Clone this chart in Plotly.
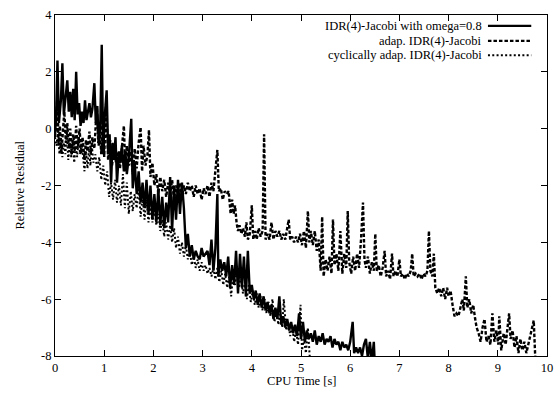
import plotly.graph_objects as go

# ---- data ----
series_names = ["IDR(4)-Jacobi with omega=0.8", "adap. IDR(4)-Jacobi", "cyclically adap. IDR(4)-Jacobi"]

omega_points = [
(0.00,-0.2),(0.02,0.3),(0.05,2.4),(0.08,0.2),(0.12,1.0),(0.15,2.3),(0.18,0.5),(0.22,1.1),(0.25,1.7),(0.28,0.6),
(0.31,1.3),(0.34,0.4),(0.37,1.4),(0.40,0.3),(0.43,2.0),(0.46,0.5),(0.49,0.9),(0.52,0.1),(0.55,0.6),(0.58,0.2),
(0.61,1.0),(0.64,0.3),(0.67,0.6),(0.70,0.9),(0.73,0.4),(0.76,0.7),(0.80,1.6),(0.83,0.2),(0.86,0.8),(0.89,-0.6),
(0.92,0.1),(0.95,2.95),(0.98,-0.9),(1.01,0.4),(1.05,1.35),(1.08,-0.8),(1.11,-0.2),(1.14,-1.9),(1.17,-0.5),(1.20,-1.1),
(1.23,-0.3),(1.26,-1.9),(1.30,-0.8),(1.33,-1.2),(1.36,-0.6),(1.40,-1.5),(1.43,-0.8),(1.46,-1.6),(1.50,-1.0),(1.55,0.35),
(1.58,-2.1),(1.62,-1.2),(1.66,-2.3),(1.70,-1.5),(1.74,-2.6),(1.78,-1.9),(1.82,-2.8),(1.86,-1.8),(1.90,-3.0),(1.94,-2.0),
(1.98,-3.2),(2.02,-2.3),(2.06,-3.3),(2.10,-2.1),(2.14,-3.4),(2.18,-2.4),(2.22,-3.5),(2.26,-2.6),(2.30,-3.3),(2.34,-1.7),
(2.38,-3.6),(2.42,-2.0),(2.46,-3.2),(2.50,-1.8),(2.54,-3.0),(2.58,-1.9),(2.62,-2.8),(2.66,-4.2),(2.70,-3.7),(2.74,-4.5),
(2.78,-4.1),(2.82,-4.6),(2.86,-4.3),(2.90,-4.5),(2.94,-4.6),(2.98,-4.2),(3.02,-4.5),(3.06,-4.4),(3.10,-4.3),(3.14,-4.8),
(3.18,-3.9),(3.22,-5.0),(3.26,-4.2),(3.30,-2.3),(3.32,-5.2),(3.36,-4.6),(3.40,-5.0),(3.44,-4.7),(3.48,-5.2),(3.52,-4.5),
(3.56,-5.6),(3.60,-4.8),(3.64,-5.5),(3.68,-4.3),(3.72,-5.8),(3.76,-4.4),(3.80,-5.6),(3.84,-4.5),(3.88,-5.9),(3.92,-4.3),
(3.96,-5.8),(4.00,-5.5),(4.04,-6.0),(4.08,-5.7),(4.12,-6.2),(4.16,-5.8),(4.20,-6.3),(4.24,-5.9),(4.28,-6.4),(4.32,-6.1),
(4.36,-6.5),(4.40,-6.2),(4.44,-6.7),(4.48,-6.3),(4.52,-6.7),(4.56,-5.9),(4.60,-6.9),(4.64,-6.6),(4.68,-7.0),(4.72,-6.7),
(4.76,-7.1),(4.80,-6.8),(4.84,-7.2),(4.88,-6.9),(4.92,-7.3),(4.96,-6.5),(5.00,-7.4),(5.04,-6.8),(5.08,-7.5),(5.12,-7.1),
(5.16,-7.4),(5.20,-7.2),(5.24,-7.5),(5.28,-7.1),(5.32,-7.6),(5.36,-7.3),(5.40,-7.5),(5.44,-7.2),(5.48,-7.6),(5.52,-7.4),
(5.56,-7.5),(5.60,-7.3),(5.64,-7.7),(5.68,-7.4),(5.72,-7.6),(5.76,-7.5),(5.80,-7.8),(5.84,-7.5),(5.88,-7.7),(5.92,-7.6),
(5.96,-7.8),(6.00,-7.5),(6.05,-6.8),(6.08,-7.9),(6.12,-7.7),(6.16,-7.9),(6.20,-7.7),(6.24,-8.0),(6.28,-7.6),(6.32,-7.4),
(6.36,-8.1),(6.40,-7.5),(6.44,-8.2),(6.48,-7.5),(6.50,-8.3)]

adap_points = [
(0.00,-0.3),(0.03,0.2),(0.05,1.4),(0.07,-0.6),(0.10,0.1),(0.13,-0.9),(0.16,-0.1),(0.19,0.6),(0.22,-0.5),(0.25,0.2),
(0.28,-0.7),(0.31,0.0),(0.34,-0.9),(0.37,-0.2),(0.40,-0.8),(0.43,0.1),(0.46,-0.7),(0.50,0.0),(0.53,-0.9),(0.56,-0.3),
(0.60,-1.1),(0.63,-0.4),(0.66,-0.8),(0.70,-0.1),(0.73,-0.9),(0.76,-0.3),(0.80,-0.7),(0.85,0.8),(0.88,-0.5),(0.91,0.1),
(0.94,-0.9),(0.97,0.5),(1.00,-1.0),(1.04,0.9),(1.08,-1.1),(1.12,-0.4),(1.16,-1.3),(1.20,-0.6),(1.24,-1.2),(1.28,-0.8),
(1.32,-1.4),(1.36,-0.7),(1.40,0.1),(1.43,-1.5),(1.46,-0.6),(1.50,-1.3),(1.54,-0.8),(1.58,-1.6),(1.62,-0.7),(1.66,-1.4),
(1.70,-0.5),(1.74,0.05),(1.77,-1.5),(1.80,-0.6),(1.84,-1.3),(1.88,-0.9),(1.91,-0.05),(1.94,-1.7),(1.98,-1.2),(2.02,-2.0),
(2.06,-1.6),(2.10,-2.3),(2.14,-1.7),(2.18,-2.2),(2.22,-1.8),(2.26,-2.4),(2.30,-1.9),(2.34,-2.3),(2.38,-1.8),(2.42,-2.5),
(2.46,-2.0),(2.50,-2.3),(2.54,-1.9),(2.58,-2.4),(2.62,-2.0),(2.66,-2.3),(2.70,-1.9),(2.74,-2.2),(2.78,-2.0),(2.82,-2.4),
(2.86,-2.0),(2.90,-2.3),(2.94,-2.1),(2.98,-2.5),(3.02,-2.1),(3.06,-2.3),(3.10,-2.0),(3.14,-2.4),(3.18,-1.9),(3.22,-2.2),
(3.26,-1.5),(3.30,-0.75),(3.33,-2.2),(3.37,-2.1),(3.41,-2.5),(3.45,-2.2),(3.49,-2.3),(3.53,-2.2),(3.57,-3.0),(3.60,-2.5),
(3.63,-3.0),(3.66,-2.7),(3.69,-3.3),(3.72,-3.6),(3.75,-3.4),(3.79,-3.7),(3.82,-3.5),(3.86,-3.8),(3.89,-3.3),(3.92,-3.9),
(3.96,-3.7),(4.00,-2.7),(4.03,-3.9),(4.07,-3.6),(4.10,-3.9),(4.14,-3.5),(4.18,-3.8),(4.22,-3.6),(4.25,-0.2),(4.28,-3.9),
(4.32,-3.7),(4.36,-3.9),(4.40,-3.3),(4.44,-3.9),(4.48,-3.6),(4.52,-3.8),(4.56,-3.6),(4.60,-3.9),(4.64,-3.7),(4.68,-3.9),
(4.72,-3.5),(4.75,-3.2),(4.78,-3.9),(4.82,-3.8),(4.86,-4.0),(4.90,-3.8),(4.94,-4.0),(4.98,-3.7),(5.02,-4.1),(5.06,-3.6),
(5.10,-4.2),(5.14,-2.9),(5.17,-4.0),(5.20,-3.6),(5.24,-4.1),(5.28,-3.6),(5.32,-4.3),(5.36,-3.9),(5.40,-5.0),(5.43,-3.1),
(5.46,-5.2),(5.50,-4.6),(5.54,-5.0),(5.58,-4.5),(5.62,-5.1),(5.65,-3.2),(5.68,-4.8),(5.72,-4.4),(5.76,-5.0),(5.80,-3.6),
(5.84,-5.1),(5.88,-4.4),(5.92,-4.9),(5.95,-2.9),(5.98,-4.7),(6.02,-5.1),(6.06,-4.5),(6.10,-5.0),(6.14,-4.4),(6.18,-4.9),
(6.22,-3.9),(6.26,-2.6),(6.29,-4.6),(6.32,-4.9),(6.36,-4.5),(6.40,-5.1),(6.44,-4.7),(6.48,-5.0),(6.51,-3.7),(6.54,-5.0),
(6.58,-4.8),(6.62,-5.2),(6.66,-4.9),(6.70,-4.3),(6.73,-5.2),(6.77,-5.0),(6.81,-5.3),(6.85,-4.4),(6.88,-5.2),(6.92,-5.0),
(6.96,-5.2),(7.00,-4.6),(7.03,-5.2),(7.07,-5.1),(7.11,-5.3),(7.15,-5.1),(7.19,-5.2),(7.23,-5.0),(7.26,-4.4),(7.29,-5.2),
(7.33,-5.1),(7.37,-5.2),(7.41,-5.1),(7.45,-5.3),(7.49,-5.1),(7.53,-5.2),(7.57,-5.0),(7.60,-3.6),(7.63,-5.0),(7.67,-5.2),
(7.70,-4.4),(7.73,-5.6),(7.77,-5.8),(7.81,-5.6),(7.85,-5.9),(7.89,-5.6),(7.93,-6.0),(7.97,-5.6),(8.00,-5.9),(8.04,-5.7),
(8.08,-6.2),(8.12,-6.6),(8.16,-6.5),(8.20,-6.6),(8.24,-6.3),(8.28,-6.0),(8.31,-6.4),(8.35,-5.2),(8.38,-6.3),(8.42,-6.0),
(8.46,-6.5),(8.50,-6.2),(8.54,-6.7),(8.57,-7.0),(8.61,-7.2),(8.65,-7.5),(8.69,-7.0),(8.73,-6.7),(8.77,-7.5),(8.81,-7.3),
(8.85,-7.6),(8.89,-6.5),(8.93,-7.5),(8.97,-7.1),(9.01,-7.6),(9.03,-6.6),(9.07,-7.8),(9.12,-7.2),(9.16,-7.6),(9.20,-6.8),
(9.23,-6.5),(9.26,-7.4),(9.30,-7.1),(9.34,-7.7),(9.38,-7.3),(9.42,-7.9),(9.46,-7.4),(9.50,-7.8),(9.54,-7.5),(9.58,-7.9),
(9.62,-7.6),(9.66,-7.2),(9.70,-7.0),(9.73,-6.75),(9.76,-8.0)]

cyclic_points = [
(0.00,-0.3),(0.03,-0.6),(0.06,-0.1),(0.09,-0.9),(0.12,-0.3),(0.15,-1.0),(0.18,-0.5),(0.21,-0.9),(0.24,-0.1),(0.27,-1.1),
(0.30,-0.5),(0.33,-1.0),(0.36,-0.4),(0.39,-1.2),(0.42,-0.6),(0.45,-1.0),(0.48,-0.3),(0.51,-0.9),(0.54,-0.5),(0.57,-1.0),
(0.60,-1.5),(0.63,-0.8),(0.66,-1.4),(0.69,-0.7),(0.72,-1.3),(0.75,-0.6),(0.78,-1.2),(0.82,-0.9),(0.86,-1.5),(0.90,-1.0),
(0.94,-1.8),(0.98,-1.3),(1.02,-2.0),(1.06,-1.5),(1.10,-2.4),(1.14,-1.9),(1.18,-2.5),(1.22,-1.8),(1.26,-2.6),(1.30,-2.0),
(1.34,-2.7),(1.38,-1.6),(1.42,-2.8),(1.46,-1.9),(1.50,-3.0),(1.54,-2.2),(1.58,-2.9),(1.62,-2.3),(1.66,-2.8),(1.70,-2.0),
(1.74,-3.1),(1.78,-2.4),(1.82,-3.2),(1.86,-2.5),(1.90,-3.3),(1.94,-2.7),(1.98,-3.3),(2.02,-2.8),(2.06,-3.4),(2.10,-3.0),
(2.14,-3.6),(2.18,-3.2),(2.22,-3.8),(2.26,-3.3),(2.30,-3.9),(2.34,-3.4),(2.38,-4.0),(2.42,-3.5),(2.46,-4.2),(2.50,-3.8),
(2.54,-4.4),(2.58,-4.0),(2.62,-4.5),(2.66,-4.1),(2.70,-4.6),(2.74,-4.3),(2.78,-4.8),(2.82,-4.5),(2.86,-4.9),(2.90,-4.6),
(2.94,-5.0),(2.98,-4.7),(3.02,-5.0),(3.06,-4.8),(3.10,-5.1),(3.14,-4.9),(3.18,-5.2),(3.22,-4.9),(3.26,-5.3),(3.30,-4.9),
(3.34,-5.4),(3.38,-5.0),(3.42,-5.5),(3.46,-5.1),(3.50,-5.6),(3.54,-5.2),(3.58,-5.9),(3.62,-5.1),(3.66,-5.5),(3.70,-4.9),
(3.74,-5.6),(3.78,-5.2),(3.82,-5.8),(3.86,-5.4),(3.90,-6.0),(3.94,-5.5),(3.98,-6.1),(4.02,-5.7),(4.06,-6.2),(4.10,-5.8),
(4.14,-6.3),(4.18,-5.9),(4.22,-6.4),(4.26,-6.0),(4.30,-6.5),(4.34,-6.1),(4.38,-6.6),(4.42,-6.0),(4.46,-6.8),(4.50,-6.4),
(4.54,-6.9),(4.58,-6.5),(4.62,-7.0),(4.65,-6.0),(4.70,-7.1),(4.74,-6.8),(4.78,-7.3),(4.82,-6.9),(4.86,-7.5),(4.90,-7.1),
(4.94,-7.6),(4.99,-6.2),(5.02,-7.8),(5.06,-7.4),(5.10,-7.9),(5.14,-7.0),(5.18,-8.1)]

x_ticks = [0, 1, 2, 3, 4, 5, 6, 7, 8, 9, 10]
y_ticks = [-8, -6, -4, -2, 0, 2, 4]

styles = [
    dict(color="#000000", width=2.4, dash="solid"),
    dict(color="#000000", width=2.4, dash="3.5px,2px"),
    dict(color="#000000", width=2.0, dash="2px,2.3px"),
]

FONT = "Liberation Serif"
FS = 12.5

fig = go.Figure()
for name, pts, st in zip(series_names, [omega_points, adap_points, cyclic_points], styles):
    fig.add_trace(go.Scatter(
        x=[p[0] for p in pts], y=[p[1] for p in pts], mode="lines", name=name,
        line=st, showlegend=False,
    ))

# legend drawn gnuplot-style: right-aligned text with sample to the right
legend_y = [0.968, 0.924, 0.882]
for name, st, ly in zip(series_names, styles, legend_y):
    fig.add_annotation(x=0.872, y=ly, xref="paper", yref="paper", text=name,
                       showarrow=False, xanchor="right", yanchor="middle",
                       font=dict(family=FONT, size=FS, color="#000000"))
    fig.add_shape(type="line", xref="paper", yref="paper", x0=0.880, x1=0.968,
                  y0=ly, y1=ly, line=st)

# axis titles
fig.add_annotation(x=0.5, y=0, xref="paper", yref="paper", text="CPU Time [s]",
                   showarrow=False, xanchor="center", yanchor="middle", yshift=-25,
                   font=dict(family=FONT, size=FS, color="#000000"))
fig.add_annotation(x=0, y=0.5, xref="paper", yref="paper", text="Relative Residual",
                   showarrow=False, xanchor="center", yanchor="middle", xshift=-36,
                   textangle=-90, font=dict(family=FONT, size=FS, color="#000000"))

axis_common = dict(
    showgrid=False, zeroline=False, showline=True, linecolor="#000000", linewidth=1,
    mirror="allticks", ticks="inside", ticklen=6, tickcolor="#000000", tickwidth=1,
    tickfont=dict(family=FONT, size=FS, color="#000000"), automargin=False,
)

fig.update_xaxes(range=[0, 10], tickvals=x_ticks, ticktext=[str(v) for v in x_ticks], **axis_common)
fig.update_yaxes(range=[-8, 4], tickvals=y_ticks, ticktext=[str(v) for v in y_ticks], **axis_common)

fig.update_layout(
    width=555, height=396,
    margin=dict(l=55, r=8, t=15, b=40),
    paper_bgcolor="white", plot_bgcolor="white",
    font=dict(family=FONT, size=FS, color="#000000"),
)

fig.write_html("out.html")
